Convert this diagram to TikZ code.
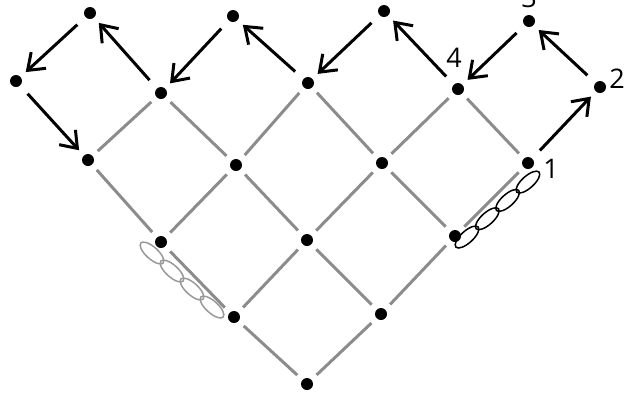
\documentclass[tikz,border=0pt]{standalone}
\usepackage{fontspec}
\setmainfont{Open Sans}
\usetikzlibrary{arrows.meta}
\begin{document}
\begin{tikzpicture}[x=1pt,y=-1pt,>={Straight Barb[length=15pt,width=22pt]}]
\tikzset{dot/.style={circle,fill,inner sep=0pt,minimum size=12pt},
  lattice/.style={line width=3pt,black!45,shorten <=7pt,shorten >=7pt},
  walk/.style={->,line width=3pt,shorten <=11pt,shorten >=7pt},
  loop/.style={line width=1.5pt},
  lab/.style={anchor=base,inner sep=0pt,font=\fontsize{27}{27}\selectfont}}
\useasboundingbox (0,0) rectangle (624,392);
\foreach \c/\r/\x/\y in {1/0/90/13,3/0/233/16,5/0/384/11,7/0/529/21,
  0/1/16/81,2/1/161/93,4/1/308/83,6/1/458/89,8/1/600/87,
  1/2/88/160,3/2/236/165,5/2/382/163,7/2/528/163,
  2/3/161/242,4/3/307/240,6/3/455/236,3/4/234/317,5/4/381/314,4/5/307/384}
  \node[dot] (n\c\r) at (\x,\y) {};
\foreach \a/\b in {21/12,21/32,41/32,41/52,61/52,61/72,12/23,32/23,32/43,52/43,
  52/63,72/63,23/34,43/34,43/54,63/54,34/45,54/45}
  \draw[lattice] (n\a)--(n\b);
\foreach \a/\b in {72/81,81/70,70/61,61/50,50/41,41/30,30/21,21/10,10/01,01/12}
  \draw[walk] (n\a)--(n\b);
\foreach \i in {0,...,3}{
  \draw[loop,black!40,shift={(152+20*\i,253+18*\i)},rotate=-42] (0,0) ellipse [x radius=15,y radius=6];
  \draw[loop,shift={(467+20.3*\i,237-18.3*\i)},rotate=42] (0,0) ellipse [x radius=15,y radius=6];}
\node[lab] (l1) at (551,178) {1};
\node[lab] (l2) at (617,88) {2};
\node[lab] (l3) at (529,7) {3};
\node[lab] (l4) at (454,67) {4};
\end{tikzpicture}
\end{document}
